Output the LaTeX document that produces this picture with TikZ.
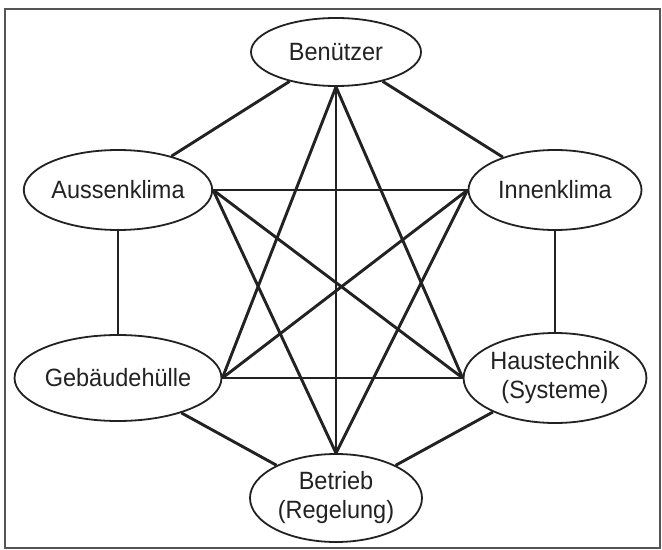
\documentclass[tikz,border=0pt]{standalone}
\usepackage{fontspec}
\setmainfont{Liberation Sans}[FakeStretch=0.94]
\usetikzlibrary{shapes.geometric}
\definecolor{ink}{HTML}{222222}
\definecolor{framec}{HTML}{555555}
\tikzset{
  x=1bp, y=-1bp,
  topic/.style={ellipse, draw=ink, line width=1.8bp, fill=white, inner sep=0pt,
    align=center, text=ink,
    font=\fontsize{25bp}{29bp}\selectfont},
  link/.style={draw=ink, line width=2.9bp},
}
\begin{document}
\begin{tikzpicture}
\useasboundingbox (0,0) rectangle (662,550);
\fill[white] (0,0) rectangle (662,550);
\draw[framec, line width=1.6bp] (5,9) rectangle (660,548);

\node[topic, minimum width=170bp, minimum height=68bp] (B) at (336,52) {Benützer};
\node[topic, minimum width=172bp, minimum height=80bp] (A) at (118,190) {Aussenklima};
\node[topic, minimum width=173bp, minimum height=80bp] (I) at (555,190) {Innenklima};
\node[topic, minimum width=172bp, minimum height=86bp] (G) at (118,378) {Gebäudehülle};
\node[topic, minimum width=173bp, minimum height=90bp] (H) at (555,378) {Haustechnik\\(Systeme)};
\node[topic, minimum width=172bp, minimum height=88bp] (R) at (336,498) {Betrieb\\(Regelung)};

% outer hexagon
\draw[link] (B) -- (A);
\draw[link] (B) -- (I);
\draw[link] (A) -- (G);
\draw[link] (I) -- (H);
\draw[link] (G) -- (R);
\draw[link] (H) -- (R);
% inner connections
\draw[link] (A.east) -- (I.west);
\draw[link] (G.east) -- (H.west);
\draw[link] (B.south) -- (R.north);
\draw[link] (B.south) -- (G.east);
\draw[link] (B.south) -- (H.west);
\draw[link] (R.north) -- (A.east);
\draw[link] (R.north) -- (I.west);
\draw[link] (A.east) -- (H.west);
\draw[link] (I.west) -- (G.east);
\end{tikzpicture}
\end{document}
